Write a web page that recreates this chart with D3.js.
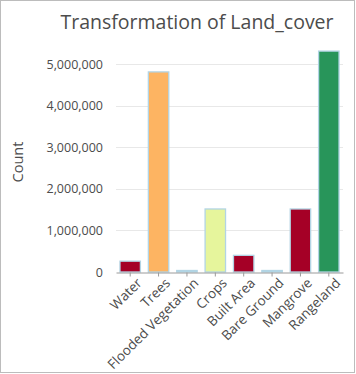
<!DOCTYPE html>
<html><head><meta charset="utf-8">
<script src="https://cdn.jsdelivr.net/npm/d3@7"></script>
<style>
html,body{margin:0;padding:0;background:#fff;}
svg text{font-family:"Open Sans","Noto Sans",sans-serif;fill:#4c4c4c;}
</style></head><body>
<svg id="c" width="356" height="374"></svg>
<script>
const categories = ["Water","Trees","Flooded Vegetation","Crops","Built Area","Bare Ground","Mangrove","Rangeland"];
const counts = [260000, 4810000, 20000, 1515000, 400000, 15000, 1515000, 5310000];
const colors = ["#a50026","#fdb462","#add8e6","#e6f59c","#a50026","#add8e6","#a50026","#28955a"];
const yTicks = [0,1000000,2000000,3000000,4000000,5000000];
const title = "Transformation of Land_cover";
const yTitle = "Count";

const svg = d3.select("#c");
svg.append("rect").attr("x",0.5).attr("y",0.5).attr("width",354).attr("height",372)
  .attr("fill","#fff").attr("stroke","#bcbcbc").attr("stroke-width",1);

const x = d3.scaleBand().domain(categories).range([116,343]).paddingInner(0.28).paddingOuter(0.14);
const y = d3.scaleLinear().domain([0,5000000]).range([272,64]);

// gridlines
svg.append("g").selectAll("line").data(yTicks.slice(1)).join("line")
  .attr("x1",116).attr("x2",343).attr("y1",d=>Math.round(y(d))+0.5).attr("y2",d=>Math.round(y(d))+0.5)
  .attr("stroke","#e8e8e8").attr("stroke-width",1);

// y axis
const ya = svg.append("g").attr("transform","translate(116,0)")
  .call(d3.axisLeft(y).tickValues(yTicks).tickFormat(d3.format(",")).tickSize(0).tickPadding(13));
ya.select(".domain").remove();
ya.selectAll("text").style("font-size","12.5px").attr("fill","#4c4c4c");

// bars
svg.append("g").selectAll("rect").data(categories).join("rect")
  .attr("x",(d)=>x(d)).attr("width",x.bandwidth())
  .attr("y",(d,i)=>Math.min(y(counts[i]),270.5))
  .attr("height",(d,i)=>Math.max(272-y(counts[i]),1.5))
  .attr("fill",(d,i)=>colors[i])
  .attr("stroke","#b2d4e4").attr("stroke-width",1.3);

// x axis
const xa = svg.append("g").attr("transform","translate(0,272.5)")
  .call(d3.axisBottom(x).tickSize(4).tickSizeOuter(0).tickPadding(4));
xa.select(".domain").attr("stroke","#9a9a9a");
xa.selectAll(".tick line").attr("stroke","#9a9a9a");
xa.selectAll("text").style("font-size","13.5px").attr("fill","#4c4c4c")
  .attr("text-anchor","end").attr("transform","translate(3,0) rotate(-45)").attr("dy","0.5em").attr("dx","-0.1em");

// title
svg.append("text").attr("x",197).attr("y",29).attr("text-anchor","middle")
  .style("font-size","19.5px").text(title);

// y title
svg.append("text").attr("transform","translate(23,162) rotate(-90)").attr("text-anchor","middle")
  .style("font-size","14.5px").text(yTitle);
</script>
</body></html>
